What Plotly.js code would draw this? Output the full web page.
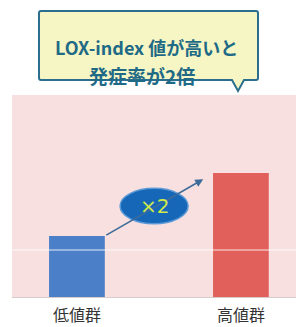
<!DOCTYPE html>
<html><head><meta charset="utf-8">
<script src="https://cdn.plot.ly/plotly-3.0.1.min.js"></script>
<style>html,body{margin:0;padding:0;background:#fff}#c{width:296px;height:327px}</style>
</head><body><div id="c"></div>
<script>
const categories = ["低値群", "高値群"];
const values = [1.0, 2.03];
const barColors = ["#4b80c9", "#e1605b"];
const calloutLines = ["LOX-index 値が高いと", "発症率が2倍"];
const ratioLabel = "×2";

const font = "'Noto Sans CJK JP', 'Noto Sans', sans-serif";
const trace = {
  type: "bar", x: categories, y: values, width: 0.34,
  marker: {color: barColors, line: {width: 0}},
  hoverinfo: "none"
};
const X = px => (px - 12) / 284, Y = py => (297 - py) / 202;
const box = `M ${X(41)} ${Y(11)} L ${X(256)} ${Y(11)} Q ${X(258)} ${Y(11)} ${X(258)} ${Y(13)} L ${X(258)} ${Y(78)} Q ${X(258)} ${Y(80)} ${X(256)} ${Y(80)} L ${X(244)} ${Y(80)} L ${X(238)} ${Y(91)} L ${X(232)} ${Y(80)} L ${X(41)} ${Y(80)} Q ${X(39)} ${Y(80)} ${X(39)} ${Y(78)} L ${X(39)} ${Y(13)} Q ${X(39)} ${Y(11)} ${X(41)} ${Y(11)} Z`;

const layout = {
  width: 296, height: 327,
  margin: {l: 12, r: 0, t: 95, b: 30},
  paper_bgcolor: "#ffffff", plot_bgcolor: "#f9e0e0",
  showlegend: false,
  xaxis: {
    range: [-0.396, 1.336], showgrid: false, zeroline: false,
    showline: true, linecolor: "#d6cccc", linewidth: 1,
    ticks: "outside", ticklen: 2, tickcolor: "rgba(0,0,0,0)",
    ticklabelstandoff: 2,
    tickfont: {family: font, size: 16, color: "#333333"}
  },
  yaxis: {
    range: [0, 3.31], showgrid: false, zeroline: false, showticklabels: false,
    showline: false
  },
  shapes: [
    {type: "line", xref: "paper", yref: "y", x0: 0, x1: 1, y0: 0.77, y1: 0.77,
     line: {color: "rgba(255,255,255,0.85)", width: 1}, layer: "above"},
    {type: "path", xref: "paper", yref: "paper", path: box,
     fillcolor: "#f6f6c4", line: {color: "#2c6e8e", width: 2}},
    {type: "circle", xref: "x", yref: "y", x0: 0.263, x1: 0.678, y0: 1.2, y1: 1.78,
     fillcolor: "#1767b8", line: {color: "#5b9ad6", width: 1.5}, layer: "above"}
  ],
  annotations: [
    {xref: "paper", yref: "paper", x: X(146), y: Y(32), text: "<b>" + calloutLines[0] + "</b>",
     showarrow: false, font: {family: font, size: 18, color: "#1f6a86"}},
    {xref: "paper", yref: "paper", x: X(142), y: Y(60), text: "<b>" + calloutLines[1] + "</b>",
     showarrow: false, font: {family: font, size: 19, color: "#1f6a86"}},
    {xref: "x", yref: "y", axref: "x", ayref: "y", x: 0.77, y: 1.93, ax: 0.17, ay: 1.0,
     showarrow: true, arrowhead: 2, arrowsize: 1, arrowwidth: 1.6, arrowcolor: "#3d6c9a", text: ""},
    {xref: "x", yref: "y", x: 0.47, y: 1.49, text: ratioLabel, showarrow: false,
     font: {family: "'DejaVu Sans', sans-serif", size: 20, color: "#cfe84a"}}
  ]
};
Plotly.newPlot("c", [trace], layout, {staticPlot: true, displayModeBar: false});
</script></body></html>
